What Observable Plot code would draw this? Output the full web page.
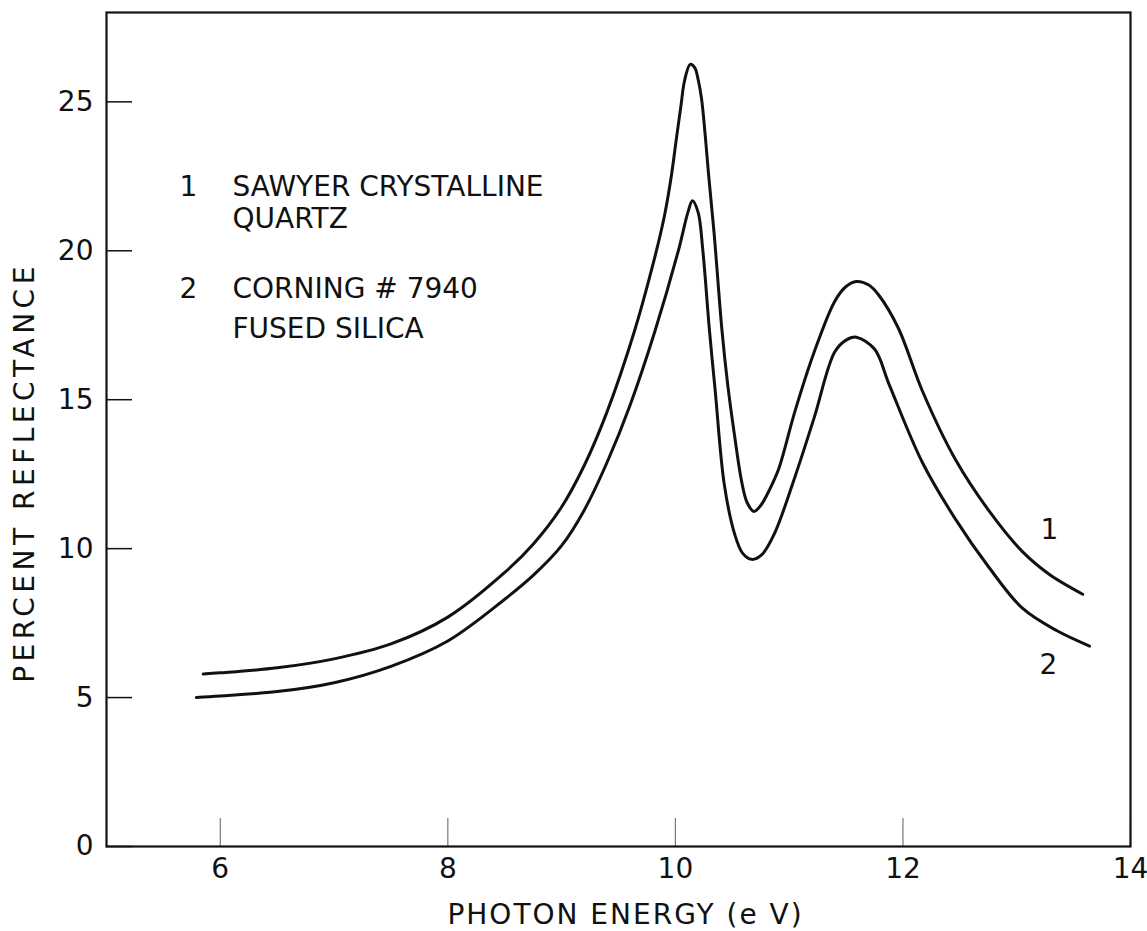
<!DOCTYPE html>
<html><head><meta charset="utf-8">
<script src="https://cdn.jsdelivr.net/npm/d3@7"></script>
<script src="https://cdn.jsdelivr.net/npm/@observablehq/plot@0.6"></script>
<style>body{margin:0;background:#fff}</style>
</head><body><div id="chart"></div>
<script>
// Curve 1: Sawyer crystalline quartz
const energy1 = [5.85, 6.0, 6.5, 7.0, 7.5, 8.0, 8.5, 8.75, 9.0, 9.2, 9.4, 9.64, 9.8, 9.9, 9.96, 10.01, 10.05, 10.08, 10.13, 10.17, 10.2, 10.23, 10.26, 10.29, 10.34, 10.41, 10.46, 10.52, 10.58, 10.63, 10.69, 10.75, 10.83, 10.91, 11.05, 11.22, 11.40, 11.5, 11.59, 11.7, 11.79, 11.96, 12.17, 12.46, 12.76, 13.05, 13.3, 13.58];
const reflect1 = [5.79, 5.83, 6.0, 6.3, 6.8, 7.7, 9.2, 10.15, 11.4, 12.8, 14.6, 17.3, 19.5, 21.1, 22.4, 23.8, 24.9, 25.7, 26.26, 26.15, 25.75, 25.1, 23.97, 22.63, 20.6, 17.3, 15.5, 13.8, 12.3, 11.55, 11.25, 11.45, 12.0, 12.7, 14.6, 16.6, 18.3, 18.8, 18.97, 18.85, 18.5, 17.4, 15.3, 13.0, 11.25, 9.9, 9.1, 8.47];
// Curve 2: Corning #7940 fused silica
const energy2 = [5.79, 6.0, 6.5, 7.0, 7.5, 8.0, 8.5, 8.75, 9.0, 9.2, 9.4, 9.6, 9.82, 10.03, 10.11, 10.15, 10.2, 10.24, 10.30, 10.35, 10.43, 10.52, 10.59, 10.67, 10.76, 10.87, 11.05, 11.22, 11.40, 11.5, 11.59, 11.75, 11.88, 12.17, 12.46, 12.76, 13.05, 13.35, 13.64];
const reflect2 = [5.0, 5.05, 5.2, 5.5, 6.05, 6.9, 8.3, 9.1, 10.1, 11.3, 12.9, 14.8, 17.3, 20.06, 21.29, 21.68, 21.29, 20.06, 17.3, 15.3, 12.15, 10.5, 9.85, 9.64, 9.8, 10.5, 12.4, 14.4, 16.6, 17.0, 17.1, 16.7, 15.5, 12.9, 11.0, 9.35, 8.0, 7.25, 6.73];

const xTicks = [6, 8, 10, 12, 14];
const yTicks = [0, 5, 10, 15, 20, 25];
const xTitle = "PHOTON ENERGY (e V)";
const yTitle = "PERCENT REFLECTANCE";
const legendNums = ["1", "2"];
const legendLines = ["SAWYER CRYSTALLINE", "QUARTZ", "CORNING # 7940", "FUSED SILICA"];

const s1 = energy1.map((e, i) => ({energy: e, reflectance: reflect1[i]}));
const s2 = energy2.map((e, i) => ({energy: e, reflectance: reflect2[i]}));

const W = 1147, H = 931, mL = 106, mR = 17, mT = 12, mB = 85;
const plotW = W - mL - mR, plotH = H - mT - mB;
const ink = "#111";
const font = "DejaVu Sans";

const txt = (s, o) => Plot.text([s], {text: d => d, frameAnchor: "top-left", textAnchor: "start", lineAnchor: "bottom", fontSize: 28, fill: ink, ...o});

const chart = Plot.plot({
  width: W, height: H,
  marginLeft: mL, marginRight: mR, marginTop: mT, marginBottom: mB,
  style: {fontFamily: font, background: "white", color: ink},
  x: {domain: [5, 14]},
  y: {domain: [0, 28]},
  marks: [
    Plot.tickY(yTicks, {y: d => d, insetRight: plotW - 26, stroke: ink, strokeWidth: 1.5}),
    Plot.tickX(xTicks, {x: d => d, insetTop: plotH - 28, stroke: "#777", strokeWidth: 1.2}),
    Plot.frame({stroke: ink, strokeWidth: 2.2}),
    Plot.axisY({ticks: yTicks, tickSize: 0, tickPadding: 13, fontSize: 28, label: null, fill: ink}),
    Plot.axisX({ticks: xTicks, tickSize: 0, tickPadding: 12, fontSize: 28, label: null, fill: ink}),
    Plot.line(s1, {x: "energy", y: "reflectance", curve: "catmull-rom", stroke: ink, strokeWidth: 3}),
    Plot.line(s2, {x: "energy", y: "reflectance", curve: "catmull-rom", stroke: ink, strokeWidth: 3}),
    Plot.text([yTitle], {text: d => d, frameAnchor: "left", dx: -81, dy: 43, rotate: -90, textAnchor: "middle", lineAnchor: "middle", fontSize: 28, fill: ink}),
    Plot.text([xTitle], {text: d => d, frameAnchor: "bottom", dx: 7, dy: 69, textAnchor: "middle", lineAnchor: "middle", fontSize: 28, fill: ink}),
    txt(legendNums[0], {dx: 82, dy: 183, textAnchor: "middle"}),
    txt(legendLines[0], {dx: 126, dy: 183}),
    txt(legendLines[1], {dx: 126, dy: 215}),
    txt(legendNums[1], {dx: 82, dy: 285, textAnchor: "middle"}),
    txt(legendLines[2], {dx: 126, dy: 285}),
    txt(legendLines[3], {dx: 126, dy: 325}),
    txt(legendNums[0], {dx: 943, dy: 526, textAnchor: "middle"}),
    txt(legendNums[1], {dx: 942, dy: 661, textAnchor: "middle"})
  ]
});
document.getElementById("chart").append(chart);
d3.select(chart).selectAll("text").filter(function(){ return this.textContent === yTitle; }).attr("letter-spacing", 4.5);
d3.select(chart).selectAll("text").filter(function(){ return this.textContent === xTitle; }).attr("letter-spacing", 2);
</script>
</body></html>
